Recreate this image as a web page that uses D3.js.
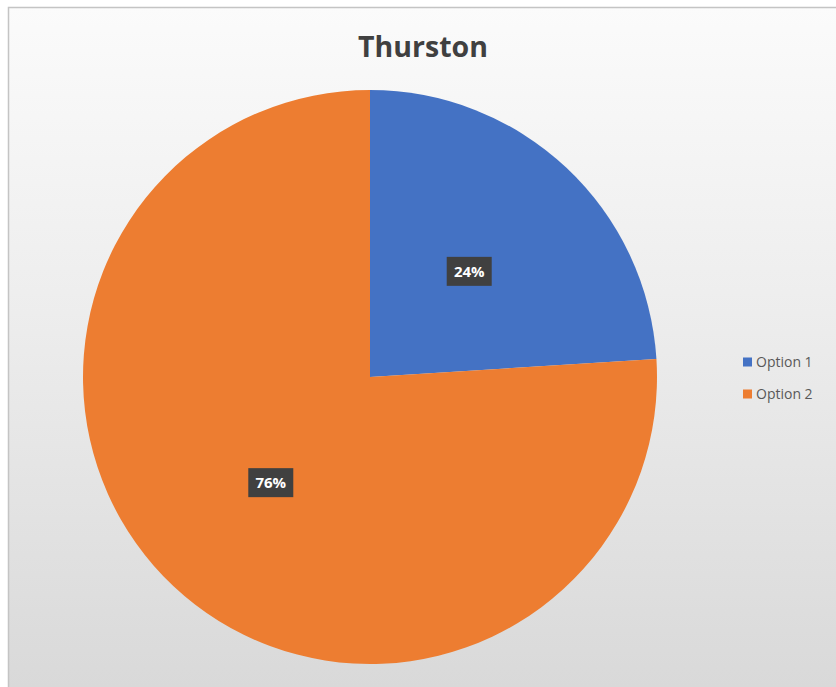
<!DOCTYPE html>
<html>
<head>
<meta charset="utf-8">
<script src="https://cdn.jsdelivr.net/npm/d3@7/dist/d3.min.js"></script>
<style>
html,body{margin:0;padding:0;background:#fff;}
svg{display:block;}
</style>
</head>
<body>
<svg id="chart" width="836" height="687"></svg>
<script>
const title = "Thurston";
const categories = ["Option 1", "Option 2"];
const values = [24, 76];
const colors = ["#4472C4", "#ED7D31"];

const svg = d3.select("#chart");
const W = 836, H = 687;

const defs = svg.append("defs");
const grad = defs.append("linearGradient").attr("id", "bg").attr("x1", 0).attr("y1", 0).attr("x2", 0).attr("y2", 1);
grad.append("stop").attr("offset", "0%").attr("stop-color", "#fbfbfb");
grad.append("stop").attr("offset", "45%").attr("stop-color", "#ededed");
grad.append("stop").attr("offset", "100%").attr("stop-color", "#d9d9d9");

svg.append("rect").attr("x", 8).attr("y", 7).attr("width", W - 8).attr("height", H - 7)
  .attr("fill", "url(#bg)");
svg.append("path").attr("d", `M8.5,${H} L8.5,7.5 L${W},7.5`)
  .attr("fill", "none").attr("stroke", "#c4c4c4").attr("stroke-width", 1.5);

svg.append("text").attr("x", 423).attr("y", 57).attr("text-anchor", "middle")
  .attr("font-family", "'Open Sans', sans-serif").attr("font-weight", "bold")
  .attr("font-size", 28.5).attr("fill", "#404040").text(title);

const cx = 370, cy = 377, r = 287;
const pie = d3.pie().sort(null).value(d => d)(values);
const arc = d3.arc().innerRadius(0).outerRadius(r);
const labelArc = d3.arc().innerRadius(r * 1.01).outerRadius(r * 1.01);

const g = svg.append("g").attr("transform", `translate(${cx},${cy})`);
g.selectAll("path.slice").data(pie).enter().append("path")
  .attr("class", "slice").attr("d", arc).attr("fill", (d, i) => colors[i]);

const total = d3.sum(values);
const lab = g.selectAll("g.lab").data(pie).enter().append("g")
  .attr("class", "lab")
  .attr("transform", d => { const c = labelArc.centroid(d); return `translate(${c[0] / 2},${c[1] / 2})`; });
lab.append("rect").attr("x", -22.5).attr("y", -14.5).attr("width", 45).attr("height", 29)
  .attr("fill", "#404040");
lab.append("text").attr("text-anchor", "middle").attr("dy", "0.36em")
  .attr("font-family", "'Open Sans', sans-serif").attr("font-weight", "bold")
  .attr("font-size", 15).attr("fill", "#ffffff")
  .text(d => Math.round(d.data / total * 100) + "%");

const leg = svg.append("g");
const items = leg.selectAll("g").data(categories).enter().append("g")
  .attr("transform", (d, i) => `translate(743,${362 + i * 32})`);
items.append("rect").attr("x", 0).attr("y", -4.5).attr("width", 9).attr("height", 9)
  .attr("fill", (d, i) => colors[i]);
items.append("text").attr("x", 13).attr("dy", "0.35em")
  .attr("font-family", "'Open Sans', sans-serif").attr("font-size", 14)
  .attr("fill", "#595959").text(d => d);
</script>
</body>
</html>
